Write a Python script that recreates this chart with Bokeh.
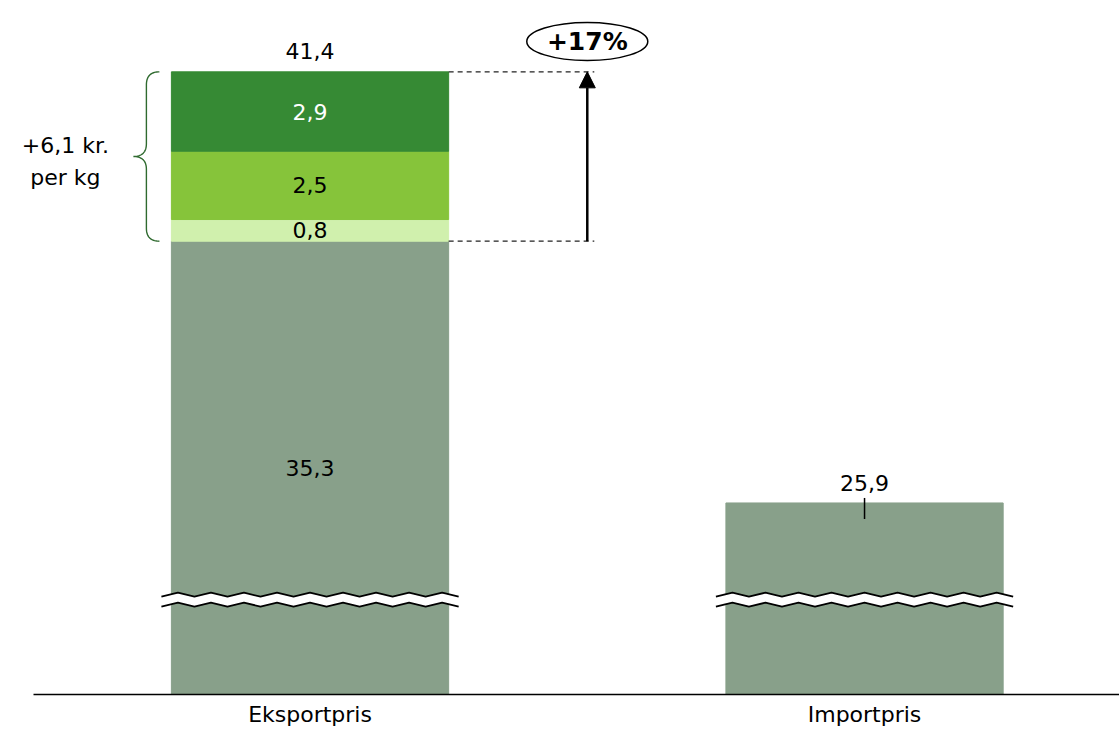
import numpy as np
from bokeh.plotting import figure
from bokeh.models import Arrow, NormalHead, FixedTicker, Range1d
from bokeh.core.properties import value
from bokeh.embed import file_html
from bokeh.resources import INLINE

# --- data -------------------------------------------------------------
categories = ["Eksportpris", "Importpris"]
base_values = [35.33, 25.9]                 # kr. per kg
export_increments = [0.78, 2.46, 2.86]      # extra export value, bottom to top
increment_colors = ["#d0f0ad", "#86c43a", "#368a34"]
increment_text_colors = ["black", "black", "white"]
base_color = "#88a08a"

FONT = "DejaVu Sans"
FS = "22px"
W, H = 1119, 729
BOTTOM = 34
X0, X1 = -0.5582, 1.4598
Y0, Y1 = 19.0, 44.0
BAR_W = 0.5

def fmt(v):
    return f"{v:.1f}".replace(".", ",")

px_x = W / (X1 - X0)               # pixels per x unit
px_y = (H - BOTTOM) / (Y1 - Y0)    # pixels per y unit

p = figure(width=W, height=H, x_range=Range1d(X0, X1), y_range=Range1d(Y0, Y1),
           output_backend="svg", toolbar_location=None, y_axis_location=None,
           min_border_left=0, min_border_right=0, min_border_top=0,
           min_border_bottom=BOTTOM)
p.xgrid.visible = False
p.ygrid.visible = False
p.outline_line_color = None
p.background_fill_color = "white"
p.border_fill_color = "white"

xs = list(range(len(categories)))

# base bars
p.vbar(x=xs, top=base_values, bottom=0, width=BAR_W, color=base_color)

# stacked increments on the export bar
bottoms = np.cumsum([base_values[0]] + export_increments[:-1])
tops = bottoms + np.array(export_increments)
p.vbar(x=[xs[0]] * len(export_increments), bottom=bottoms, top=tops,
       width=BAR_W, color=increment_colors)

total = tops[-1]
gain = total - base_values[0]

def txt(x, y, t, **kw):
    opts = dict(text_align="center", text_baseline="middle", text_font=value(FONT),
                text_font_size=FS, text_color="black")
    opts.update(kw)
    p.text(x=x, y=y, text=t, **opts)

# segment labels
txt([xs[0]] * len(export_increments), list((bottoms + tops) / 2),
    [fmt(v) for v in export_increments], text_color=increment_text_colors)
txt([xs[0]], [(base_values[0] + Y0) / 2], [fmt(base_values[0])])
txt([xs[0]], [total], [fmt(total)], y_offset=-21)

# import label with leader tick
txt([xs[1]], [base_values[1]], [fmt(base_values[1])], y_offset=-20)
p.segment(x0=[xs[1]], x1=[xs[1]], y0=[base_values[1] + 5 / px_y],
          y1=[base_values[1] - 16 / px_y], line_color="black", line_width=1.5)

# axis-break zigzags
def zigzag(xc, yc, half_w, period=34.0, amp=2.0):
    n = int(np.ceil(2 * half_w * px_x / (period / 2)))
    xx = np.linspace(xc - half_w, xc + half_w, n + 1)
    yy = yc + np.where(np.arange(n + 1) % 2 == 0, -amp, amp) / px_y
    return xx, yy

break_y = Y0 + (695 - 600) / px_y
gap = 10 / px_y
for xc in xs:
    hw = BAR_W / 2 + 10 / px_x
    xa, ya = zigzag(xc, break_y + gap / 2, hw)
    xb, yb = zigzag(xc, break_y - gap / 2, hw)
    p.patch(np.concatenate([xa, xb[::-1]]), np.concatenate([ya, yb[::-1]]),
            fill_color="white", line_color=None)
    p.line(xa, ya, line_color="black", line_width=1.8)
    p.line(xb, yb, line_color="black", line_width=1.8)

# dashed guides and growth arrow
x_arrow = (xs[0] + xs[1]) / 2
x_dash_end = x_arrow + 7 / px_x
for yv in (total, base_values[0]):
    p.segment(x0=[xs[0] + BAR_W / 2], x1=[x_dash_end], y0=[yv], y1=[yv],
              line_color="#222222", line_width=1.2, line_dash="5 4")
p.add_layout(Arrow(x_start=x_arrow, y_start=base_values[0], x_end=x_arrow, y_end=total,
                   line_color="black", line_width=2.5,
                   end=NormalHead(size=16, fill_color="black", line_color="black")))

# percentage badge
pct = gain / base_values[0] * 100
y_badge = Y1 - 41 / px_y
p.ellipse(x=[x_arrow], y=[y_badge], width=121, height=38, width_units="screen",
          height_units="screen", fill_color="white", line_color="black", line_width=1.5)
txt([x_arrow], [y_badge], [f"+{pct:.0f}%"], text_font_style="bold",
    text_font_size="25px")

# curly brace around the increments
def qbez(p0, c, p1, n=20):
    t = np.linspace(0, 1, n)[:, None]
    return (1 - t) ** 2 * np.array(p0) + 2 * (1 - t) * t * np.array(c) + t ** 2 * np.array(p1)

bl = xs[0] - BAR_W / 2
xr, xv, xt = bl - 12 / px_x, bl - 25 / px_x, bl - 38 / px_x
top, bot = total, base_values[0]
mid = (top + bot) / 2
r = 13 / px_y
pts = np.vstack([
    qbez((xr, top), (xv, top), (xv, top - r)),
    qbez((xv, mid + r), (xv, mid), (xt, mid)),
    qbez((xt, mid), (xv, mid), (xv, mid - r)),
    qbez((xv, bot + r), (xv, bot), (xr, bot)),
])
p.line(pts[:, 0], pts[:, 1], line_color="#2f6a2f", line_width=1.4)

for i, line in enumerate([f"+{fmt(gain)} kr.", "per kg"]):
    txt([bl - 106 / px_x], [mid + (11 - i * 32) / px_y], [line])

# category axis, its line starting a little right of the left edge
p.xaxis.ticker = FixedTicker(ticks=xs)
p.xaxis.bounds = (X0 + 33 / px_x, X1)
p.xaxis.major_label_overrides = {x: c for x, c in zip(xs, categories)}
p.xaxis.major_label_text_font = FONT
p.xaxis.major_label_text_font_size = FS
p.xaxis.major_label_text_color = "black"
p.xaxis.major_label_standoff = 7
p.xaxis.major_tick_out = 0
p.xaxis.major_tick_in = 0
p.xaxis.major_tick_line_color = None
p.xaxis.minor_tick_line_color = None
p.xaxis.axis_line_color = "black"
p.xaxis.axis_line_width = 1.5

open("out.html", "w").write(file_html(p, INLINE))
